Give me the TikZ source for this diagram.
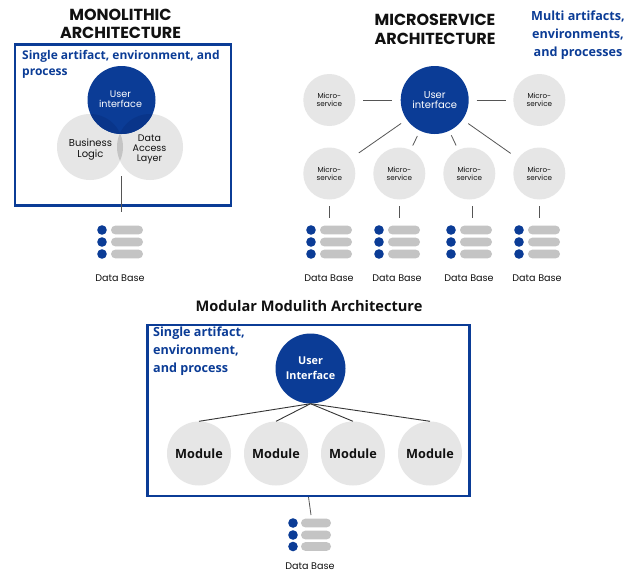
\documentclass[tikz,border=0pt]{standalone}
\usepackage{fontspec}
\setmainfont{Open Sans}
\newfontfamily\geo{Poppins}
\definecolor{navy}{HTML}{0B3C96}
\definecolor{navyd}{HTML}{09358A}
\definecolor{lgray}{HTML}{E6E6E6}
\definecolor{mgray}{HTML}{C4C4C4}
\definecolor{ink}{HTML}{111111}
\definecolor{wire}{HTML}{555555}
\tikzset{
 framebox/.style={draw=navy,line width=2.4pt,inner sep=0pt,outer sep=0pt},
 ghead/.style={font=\geo\bfseries\fontsize{16}{18.5}\selectfont,text=ink,align=center,inner sep=0pt},
 mhead/.style={font=\bfseries\fontsize{14.6}{18}\selectfont,text=ink,align=center,inner sep=0pt},
 bluenote/.style={font=\bfseries\fontsize{12}{18}\selectfont,text=navy,inner sep=0pt},
 uicirc/.style={circle,fill=navy,text=white,inner sep=0pt,align=center},
 graycirc/.style={circle,fill=lgray,text=ink,inner sep=0pt,align=center},
 smalltxt/.style={font=\geo\fontsize{7.2}{8}\selectfont},
 dbtxt/.style={font=\geo\fontsize{9.6}{10}\selectfont,text=ink,inner sep=0pt},
 link/.style={draw=wire,line width=0.8pt},
 dbdot/.style={fill=navy},
 dbbar/.style={fill=mgray,rounded corners=4.4pt},
}
% #1 dot x, #2 bar left, #3 bar right, #4/#5/#6 row y, #7 label x, #8 label y, #9 name
\newcommand{\dbicon}[9]{%
 \foreach \ry in {#4,#5,#6}{%
  \fill[dbdot] (#1,\ry) circle (4.8);
  \fill[dbbar] (#2,\ry-4.4) rectangle (#3,\ry+4.4);
 }
 \node[dbtxt] (#9) at (#7,#8) {Data Base};
}
\begin{document}
\begin{tikzpicture}[x=1pt,y=-1pt]
\useasboundingbox (0,0) rectangle (636,573);
\fill[white] (0,0) rectangle (636,573);

% ---------- Monolithic
\node[ghead] (t1) at (120.5,24) {MONOLITHIC\\ARCHITECTURE};
\node[framebox,minimum width=216pt,minimum height=161pt] (box1) at (123,125) {};
\node[graycirc,minimum size=66pt] (bl) at (90,147) {};
\node[graycirc,minimum size=66pt] (da) at (150,147) {};
\begin{scope}
 \clip (90,147) circle (33);
 \fill[mgray] (150,147) circle (33);
\end{scope}
\node[uicirc,minimum size=68pt] (ui1) at (121.5,100) {};
\begin{scope}
 \clip (121.5,100) circle (34);
 \fill[navyd] (90,147) circle (33);
 \fill[navyd] (150,147) circle (33);
\end{scope}
\node[text=white,font=\geo\fontsize{9.6}{10.4}\selectfont,align=center,inner sep=0pt] (ui1t) at (120.5,99) {User\\interface};
\node[text=ink,font=\geo\fontsize{10}{10.4}\selectfont,align=center,inner sep=0pt] (blt) at (90.5,149.5) {Business\\Logic};
\node[text=ink,font=\geo\fontsize{9.5}{10.4}\selectfont,align=center,inner sep=0pt] (dat) at (149.5,149.5) {Data\\Access\\Layer};
\node[bluenote,anchor=west] (n1a) at (22,56.5) {Single artifact, environment, and};
\node[bluenote,anchor=west] (n1b) at (22,74) {process};
\coordinate (d0) at (121,212);
\draw[link,shorten <=76pt] (ui1.center) -- (ui1.center |- d0);
\dbicon{102}{111}{143}{230}{242}{254}{120}{278.5}{db0}

% ---------- Microservice
\node[ghead] (t2) at (435,29.5) {MICROSERVICE\\ARCHITECTURE};
\node[bluenote,align=center,font=\bfseries\fontsize{12.6}{18}\selectfont] (n2) at (578,35.5) {Multi artifacts,\\environments,\\and processes};
\node[uicirc,minimum size=68pt,font=\geo\fontsize{10}{10.6}\selectfont] (ui2) at (434.7,100) {User\\interface};
\foreach \nm/\x/\y in {ma/329.3/100,mb/539.3/100,m1/329.3/173.5,m2/399.3/173.5,m3/469.3/173.5,m4/539.3/173.5}{
 \node[graycirc,minimum size=52pt,smalltxt] (\nm) at (\x,\y) {Micro-\\service};
}
\draw[link,shorten <=43pt,shorten >=34pt] (ui2.center) -- (ma.center);
\draw[link,shorten <=42pt,shorten >=33pt] (ui2.center) -- (mb.center);
\draw[link,shorten <=41pt,shorten >=36pt] (ui2.center) -- (m1.center);
\draw[link,shorten <=40pt,shorten >=31pt] (ui2.center) -- (m2.center);
\draw[link,shorten <=39pt,shorten >=31pt] (ui2.center) -- (m3.center);
\draw[link,shorten <=41pt,shorten >=35pt] (ui2.center) -- (m4.center);
\coordinate (d1) at (329.3,218);
\coordinate (d2) at (399.3,218);
\coordinate (d3) at (472.3,218);
\coordinate (d4) at (539.8,218);
\draw[link,shorten <=32.5pt] (d1 |- m1) -- (d1);
\draw[link,shorten <=32.5pt] (d2 |- m2) -- (d2);
\draw[link,shorten <=32.5pt] (d3 |- m3) -- (d3);
\draw[link,shorten <=32.5pt] (d4 |- m4) -- (d4);
\dbicon{311}{320}{352}{230}{242}{254}{329}{278.5}{db1}
\dbicon{379}{388}{420}{230}{242}{254}{397}{278.5}{db2}
\dbicon{451}{460}{492}{230}{242}{254}{469}{278.5}{db3}
\dbicon{519}{528}{560}{230}{242}{254}{537}{278.5}{db4}

% ---------- Modular monolith
\node[mhead] (t3) at (309,306) {Modular Modulith Architecture};
\node[framebox,minimum width=322pt,minimum height=171pt] (box3) at (308.5,410.5) {};
\node[uicirc,minimum size=70pt,font=\bfseries\fontsize{10.8}{15}\selectfont] (ui3) at (310.5,368.5) {User\\Interface};
\foreach \nm/\x in {k1/199,k2/276,k3/353,k4/430}{
 \node[graycirc,minimum size=64pt,font=\bfseries\fontsize{12.7}{14}\selectfont] (\nm) at (\x,453.5) {Module};
 \draw[link,line width=0.9pt,draw=ink!85] (ui3.south) -- (\nm.north);
}
\node[bluenote,anchor=west,align=left,font=\bfseries\fontsize{12.6}{18}\selectfont] (n3) at (153,351.5) {Single artifact,\\environment,\\and process};
\coordinate (d5a) at (308.5,497);
\coordinate (d5b) at (311,515);
\draw[link] (d5a) -- (d5b);
\dbicon{293}{301}{331}{523}{535}{546.5}{310}{566.5}{db5}
\end{tikzpicture}
\end{document}
